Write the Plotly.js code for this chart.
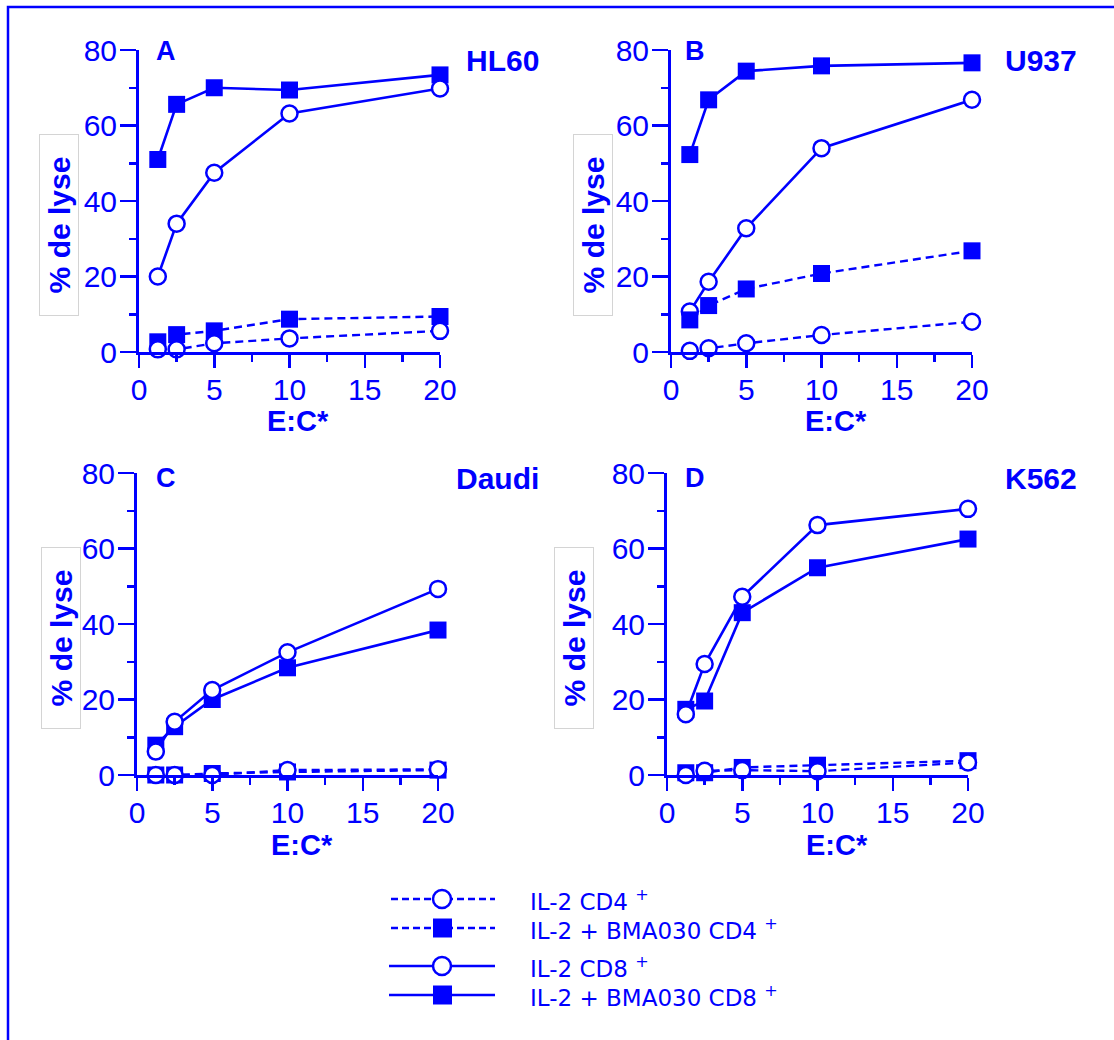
<!DOCTYPE html>
<html>
<head>
<meta charset="utf-8">
<script src="https://cdn.plot.ly/plotly-3.0.1.min.js"></script>
<style>html,body{margin:0;padding:0;background:#fff;}#chart{width:1114px;height:1040px;}</style>
</head>
<body>
<div id="chart"></div>
<script>
// ---- data ----
const ratios = [1.25, 2.5, 5, 10, 20];
const xTicks = [0, 5, 10, 15, 20];
const yTicks = [0, 20, 40, 60, 80];
const panelLetters = ['A', 'B', 'C', 'D'];
const cellLines = ['HL60', 'U937', 'Daudi', 'K562'];
const seriesNames = ['IL-2 CD4 +', 'IL-2 + BMA030 CD4 +', 'IL-2 CD8 +', 'IL-2 + BMA030 CD8 +'];

const hl60_cd4_il2 = [0.7, 0.7, 2.3, 3.6, 5.6];
const hl60_cd4_bma = [2.7, 4.6, 5.6, 8.7, 9.4];
const hl60_cd8_il2 = [20, 34, 47.5, 63.2, 69.8];
const hl60_cd8_bma = [51, 65.6, 70, 69.4, 73.4];

const u937_cd4_il2 = [0.3, 1, 2.3, 4.5, 8];
const u937_cd4_bma = [8.5, 12.3, 16.7, 20.8, 26.8];
const u937_cd8_il2 = [10.7, 18.6, 32.8, 54, 66.8];
const u937_cd8_bma = [52.3, 66.8, 74.4, 75.8, 76.6];

const daudi_cd4_il2 = [0, 0, 0, 1.3, 1.5];
const daudi_cd4_bma = [0, 0, 0.4, 0.8, 1.3];
const daudi_cd8_il2 = [6.2, 14.1, 22.5, 32.5, 49.3];
const daudi_cd8_bma = [7.9, 12.8, 20.0, 28.4, 38.4];

const k562_cd4_il2 = [0, 1.1, 1.3, 1.0, 3.3];
const k562_cd4_bma = [0.6, 0.6, 2.0, 2.6, 3.8];
const k562_cd8_il2 = [16.1, 29.4, 47.2, 66.2, 70.5];
const k562_cd8_bma = [17.4, 19.6, 43, 54.9, 62.5];

// ---- styling / layout ----
const BLUE = '#0000ff';
const W = 1114, H = 1040;
const px = v => v / W;
const py = v => 1 - v / H;

const panels = [
  {cd4i: hl60_cd4_il2, cd4b: hl60_cd4_bma, cd8i: hl60_cd8_il2, cd8b: hl60_cd8_bma, x0: 139, x1: 440, y0: 352, y1: 50},
  {cd4i: u937_cd4_il2, cd4b: u937_cd4_bma, cd8i: u937_cd8_il2, cd8b: u937_cd8_bma, x0: 671, x1: 972, y0: 352, y1: 50},
  {cd4i: daudi_cd4_il2, cd4b: daudi_cd4_bma, cd8i: daudi_cd8_il2, cd8b: daudi_cd8_bma, x0: 137, x1: 438, y0: 775, y1: 473},
  {cd4i: k562_cd4_il2, cd4b: k562_cd4_bma, cd8i: k562_cd8_il2, cd8b: k562_cd8_bma, x0: 667, x1: 968, y0: 775, y1: 473}
];

const sqMarker = {symbol: 'square', size: 17, color: BLUE, line: {width: 0}};
const ciMarker = {symbol: 'circle', size: 16, color: '#ffffff', line: {width: 2.5, color: BLUE}};
const solid = {color: BLUE, width: 2.6};
const dashed = {color: BLUE, width: 2.4, dash: '8px,5px'};

const traces = [];
const layout = {
  width: W, height: H,
  margin: {l: 0, r: 0, t: 0, b: 0},
  paper_bgcolor: '#ffffff', plot_bgcolor: 'rgba(0,0,0,0)',
  showlegend: false,
  annotations: [], shapes: []
};

const tickFont = {family: 'Liberation Sans, Arial, sans-serif', size: 30, color: BLUE};

panels.forEach((p, i) => {
  const n = i === 0 ? '' : String(i + 1);
  const xa = 'x' + n, ya = 'y' + n;
  const order = [
    [p.cd8b, sqMarker, solid, seriesNames[3]],
    [p.cd8i, ciMarker, solid, seriesNames[2]],
    [p.cd4b, sqMarker, dashed, seriesNames[1]],
    [p.cd4i, ciMarker, dashed, seriesNames[0]]
  ];
  order.forEach(([ys, mk, ln, nm]) => {
    traces.push({x: ratios, y: ys, xaxis: xa, yaxis: ya, type: 'scatter', mode: 'lines+markers',
      name: nm, marker: mk, line: ln, cliponaxis: false, hoverinfo: 'x+y'});
  });
  layout['xaxis' + n] = {
    domain: [px(p.x0), px(p.x1)], range: [0, 20], anchor: ya,
    showline: true, linecolor: BLUE, linewidth: 3, mirror: false,
    ticks: 'outside', ticklen: 13, tickwidth: 2.5, tickcolor: BLUE,
    tickmode: 'array', tickvals: xTicks, ticktext: xTicks.map(String),
    minor: {dtick: 2.5, tick0: 0, ticks: 'outside', ticklen: 7, tickwidth: 2.5, tickcolor: BLUE, showgrid: false},
    showgrid: false, zeroline: false, tickfont: tickFont, ticklabelstandoff: -4, fixedrange: true
  };
  layout['yaxis' + n] = {
    domain: [py(p.y0), py(p.y1)], range: [0, 80], anchor: xa,
    showline: true, linecolor: BLUE, linewidth: 3,
    ticks: 'outside', ticklen: 16, tickwidth: 2.5, tickcolor: BLUE,
    tickmode: 'array', tickvals: yTicks, ticktext: yTicks.map(String),
    minor: {dtick: 10, tick0: 0, ticks: 'outside', ticklen: 7, tickwidth: 2.5, tickcolor: BLUE, showgrid: false},
    showgrid: false, zeroline: false, tickfont: tickFont, ticklabelstandoff: -3, fixedrange: true
  };
});

// panel letters / cell-line names / axis titles
const letterPos = [[166, 51], [695, 51], [166, 478], [695, 478]];
const namePos = [[541, 60], [1079, 60], [541, 479], [1079, 479]];
const ecPos = [[298, 421], [836, 421], [302, 845], [837, 845]];
const lysePos = [[59, 225], [593, 225], [61, 638], [574, 638]];
const boldFont = s => ({family: 'Liberation Sans, Arial, sans-serif', size: s, color: BLUE, weight: 'bold'});

panelLetters.forEach((t, i) => {
  layout.annotations.push({text: '<b>' + t + '</b>', x: px(letterPos[i][0]), y: py(letterPos[i][1]),
    xref: 'paper', yref: 'paper', showarrow: false, xanchor: 'center', yanchor: 'middle', font: boldFont(27)});
});
cellLines.forEach((t, i) => {
  layout.annotations.push({text: '<b>' + t + '</b>', x: px(namePos[i][0]), y: py(namePos[i][1]),
    xref: 'paper', yref: 'paper', showarrow: false, xanchor: 'right', yanchor: 'middle', font: boldFont(30)});
});
ecPos.forEach(pt => {
  layout.annotations.push({text: '<b>E:C*</b>', x: px(pt[0]), y: py(pt[1]),
    xref: 'paper', yref: 'paper', showarrow: false, xanchor: 'center', yanchor: 'middle', font: boldFont(29)});
});
lysePos.forEach(pt => {
  layout.annotations.push({text: '<b>% de lyse</b>', x: px(pt[0]), y: py(pt[1]),
    xref: 'paper', yref: 'paper', showarrow: false, xanchor: 'center', yanchor: 'middle',
    textangle: -90, width: 180, height: 38, borderpad: 0, bordercolor: '#d4d4d4', borderwidth: 1,
    bgcolor: '#ffffff', font: boldFont(30)});
});

// outer blue frame
layout.shapes.push({type: 'rect', xref: 'paper', yref: 'paper', x0: px(8), x1: px(1125), y0: py(7), y1: py(1055),
  line: {color: BLUE, width: 2.5}, fillcolor: 'rgba(0,0,0,0)'});

// legend (drawn key)
const legRows = [899, 928, 966, 995];
const legSym = ['circle', 'square', 'circle', 'square'];
legRows.forEach((yy, i) => {
  layout.shapes.push({type: 'line', xref: 'paper', yref: 'paper', x0: px(i < 2 ? 391 : 389), x1: px(495), y0: py(yy), y1: py(yy),
    line: {color: BLUE, width: i < 2 ? 2.4 : 2.6, dash: i < 2 ? '7px,4px' : 'solid'}});
  if (legSym[i] === 'circle') {
    layout.shapes.push({type: 'circle', xref: 'paper', yref: 'paper', x0: px(433), x1: px(451), y0: py(yy - 9), y1: py(yy + 9),
      line: {color: BLUE, width: 2.5}, fillcolor: '#ffffff'});
  } else {
    layout.shapes.push({type: 'rect', xref: 'paper', yref: 'paper', x0: px(433), x1: px(452), y0: py(yy - 9.5), y1: py(yy + 9.5),
      line: {color: BLUE, width: 0}, fillcolor: BLUE});
  }
  const base = seriesNames[i].slice(0, -2);
  layout.annotations.push({text: base + ' <sup>+</sup>', x: px(528), y: py(yy + 1),
    xref: 'paper', yref: 'paper', showarrow: false, xanchor: 'left', yanchor: 'middle',
    font: {family: 'DejaVu Sans, Verdana, sans-serif', size: 23, color: BLUE}});
});

Plotly.newPlot('chart', traces, layout, {displayModeBar: false, staticPlot: true});
</script>
</body>
</html>
